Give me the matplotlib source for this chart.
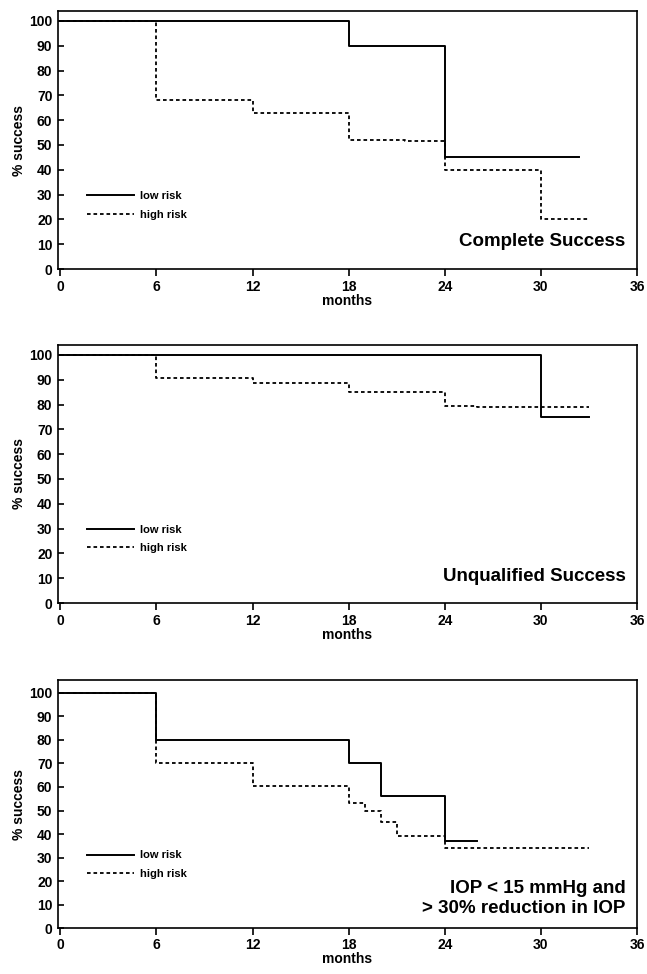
import matplotlib.pyplot as plt
import numpy as np

plt.rcParams['font.family'] = ['Liberation Sans Narrow', 'Liberation Sans', 'DejaVu Sans']
plt.rcParams['font.weight'] = 'bold'

# Kaplan-Meier steps (months, % success)
cs_low_t = [0, 18, 24, 32.4]
cs_low_y = [100, 90, 45, 45]
cs_high_t = [0, 6, 12, 18, 21.5, 24, 30, 33]
cs_high_y = [100, 68, 63, 52, 51.5, 40, 20, 20]

us_low_t = [0, 30, 33]
us_low_y = [100, 75, 75]
us_high_t = [0, 6, 12, 18, 24, 26, 33]
us_high_y = [100, 90.5, 88.5, 85, 79.5, 79, 79]

iop_low_t = [0, 6, 18, 20, 24, 26]
iop_low_y = [100, 80, 70, 56, 37, 37]
iop_high_t = [0, 6, 12, 18, 19, 20, 21, 24, 33]
iop_high_y = [100, 70, 60.5, 53, 50, 45, 39, 34, 34]

titles = ["Complete Success", "Unqualified Success", "IOP < 15 mmHg and\n> 30% reduction in IOP"]
xticks = [0, 6, 12, 18, 24, 30, 36]
yticks = list(range(0, 101, 10))

panels = [
    (cs_low_t, cs_low_y, cs_high_t, cs_high_y),
    (us_low_t, us_low_y, us_high_t, us_high_y),
    (iop_low_t, iop_low_y, iop_high_t, iop_high_y),
]

fig = plt.figure(figsize=(6.47, 9.74), dpi=100)
boxes = [[0.0896, 0.7238, 0.895, 0.2649],
         [0.0896, 0.3809, 0.895, 0.2649],
         [0.0896, 0.0470, 0.895, 0.2550]]
ytops = [104, 104, 105.5]
leg_y = [0.246, 0.248, 0.256]
title_y = [0.075, 0.07, 0.045]
xl_pad = [0, 0, 0]
xt_pad = [3, 3, 2]

for i, (lt, ly, ht, hy) in enumerate(panels):
    ax = fig.add_axes(boxes[i])
    ax.plot(ht, hy, drawstyle='steps-post', color='black', lw=1.3,
            linestyle=(0, (2, 1.6)), label='high risk', zorder=2)
    ax.plot(lt, ly, drawstyle='steps-post', color='black', lw=1.4,
            label='low risk', zorder=3)
    ax.set_xlim(-0.15, 36)
    ax.set_ylim(0, ytops[i])
    ax.set_xticks(xticks)
    ax.set_yticks(yticks)
    ax.tick_params(axis='y', direction='in', length=4, width=1.2, labelsize=10, pad=4)
    ax.tick_params(axis='x', direction='out', length=5, width=1.2, labelsize=10, pad=xt_pad[i])
    for lab in ax.get_xticklabels() + ax.get_yticklabels():
        lab.set_fontweight('bold')
    for s in ax.spines.values():
        s.set_linewidth(1.2)
    ax.set_ylabel("% success", fontsize=10, fontweight='bold', labelpad=2)
    ax.set_xlabel("months", fontsize=10, fontweight='bold', labelpad=xl_pad[i])
    h, l = ax.get_legend_handles_labels()
    ax.legend(h[::-1], l[::-1], loc='center left', bbox_to_anchor=(0.05, leg_y[i]),
              frameon=False, borderpad=0, borderaxespad=0, handlelength=4.2,
              handletextpad=0.6, labelspacing=0.75, prop={'size': 8, 'weight': 'bold'})
    ax.text(0.98, title_y[i], titles[i], transform=ax.transAxes, ha='right', va='bottom',
            fontsize=13.5, fontweight='bold', linespacing=1.25)

fig.savefig("out.png", dpi=100)
